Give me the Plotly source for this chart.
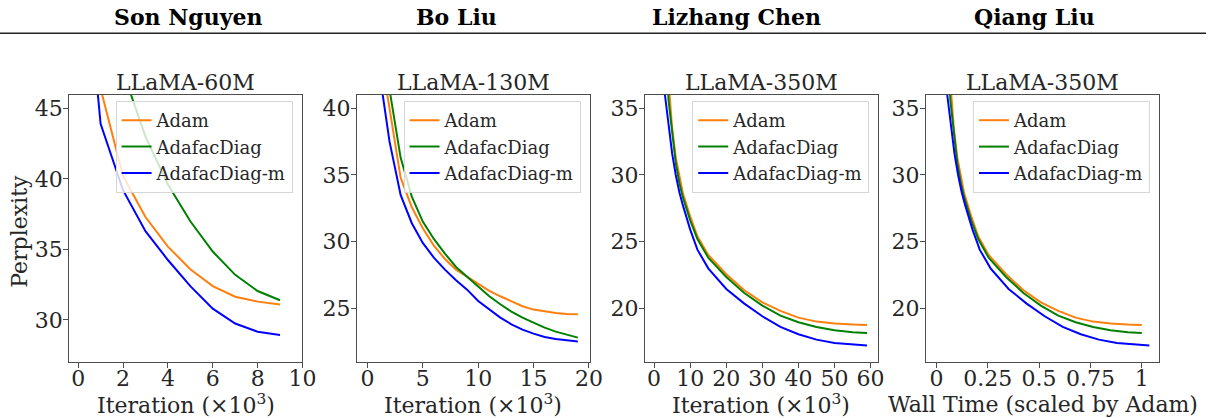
import plotly.graph_objects as go

# ---------------- data ----------------
headers = ["Son Nguyen", "Bo Liu", "Lizhang Chen", "Qiang Liu"]
titles = ["LLaMA-60M", "LLaMA-130M", "LLaMA-350M", "LLaMA-350M"]
series_names = ["Adam", "AdafacDiag", "AdafacDiag-m"]

# LLaMA-60M  (iteration, x10^3)
iter_60m = [0, 1, 2, 3, 4, 5, 6, 7, 8, 9]
adam_60m = [62.0, 46.4, 40.2, 37.3, 35.2, 33.6, 32.4, 31.65, 31.3, 31.1]
diag_60m = [63.0, 55.0, 47.6, 43.0, 39.6, 37.0, 34.85, 33.2, 32.05, 31.4]
diagm_60m = [61.0, 43.9, 39.2, 36.3, 34.25, 32.4, 30.8, 29.75, 29.17, 28.93]

# LLaMA-130M
iter_130m = [0, 1, 2, 3, 4, 5, 6, 7, 8, 9, 10, 11, 12, 13, 14, 15, 16, 17, 18, 19]
adam_130m = [72.0, 45.0, 40.0, 34.8, 32.6, 31.0, 29.7, 28.7, 27.9, 27.35, 26.8, 26.3,
             25.9, 25.5, 25.15, 24.9, 24.75, 24.65, 24.58, 24.55]
diag_130m = [75.0, 50.0, 41.4, 36.3, 33.4, 31.5, 30.2, 29.1, 28.1, 27.35, 26.6, 25.9,
             25.3, 24.75, 24.3, 23.9, 23.55, 23.25, 23.0, 22.8]
diagm_130m = [70.0, 43.2, 37.5, 33.5, 31.4, 29.9, 28.8, 27.9, 27.1, 26.4, 25.55, 24.9,
              24.3, 23.8, 23.4, 23.1, 22.85, 22.7, 22.6, 22.5]

# LLaMA-350M
iter_350m = [1, 2, 3, 4, 5, 6, 7, 8, 10, 12, 15, 20, 25, 30, 35, 40, 45, 50, 55, 59]
adam_350m = [70.0, 52.0, 43.0, 37.0, 33.5, 31.3, 29.8, 28.6, 26.9, 25.4, 24.0, 22.55,
             21.35, 20.45, 19.8, 19.3, 19.0, 18.85, 18.78, 18.75]
diag_350m = [70.0, 51.0, 41.5, 35.6, 33.1, 30.9, 29.4, 28.3, 26.6, 25.2, 23.8, 22.35,
             21.15, 20.2, 19.45, 18.95, 18.6, 18.35, 18.2, 18.15]
diagm_350m = [55.0, 41.0, 36.0, 33.6, 31.6, 30.0, 28.7, 27.7, 25.9, 24.4, 23.0, 21.45,
              20.35, 19.4, 18.6, 18.05, 17.65, 17.4, 17.28, 17.2]

# Wall time (scaled by Adam) for the LLaMA-350M runs
time_adam = [0.0169, 0.0339, 0.0508, 0.0678, 0.0847, 0.1017, 0.1186, 0.1356, 0.1695, 0.2034,
             0.2542, 0.3390, 0.4237, 0.5085, 0.5932, 0.6780, 0.7627, 0.8475, 0.9322, 1.0]
time_diag = [0.0169, 0.0339, 0.0508, 0.0678, 0.0847, 0.1017, 0.1186, 0.1356, 0.1695, 0.2034,
             0.2542, 0.3390, 0.4237, 0.5085, 0.5932, 0.6780, 0.7627, 0.8475, 0.9322, 1.0]
time_diagm = [0.0176, 0.0352, 0.0527, 0.0703, 0.0879, 0.1055, 0.1231, 0.1406, 0.1758, 0.2109,
              0.2636, 0.3515, 0.4394, 0.5273, 0.6152, 0.7031, 0.7910, 0.8789, 0.9667, 1.037]

x_tick_vals = [[0, 2, 4, 6, 8, 10], [0, 5, 10, 15, 20], [0, 10, 20, 30, 40, 50, 60],
               [0, 0.25, 0.5, 0.75, 1]]
x_tick_text = [["0", "2", "4", "6", "8", "10"], ["0", "5", "10", "15", "20"],
               ["0", "10", "20", "30", "40", "50", "60"], ["0", "0.25", "0.5", "0.75", "1"]]
y_tick_vals = [[30, 35, 40, 45], [25, 30, 35, 40], [20, 25, 30, 35], [20, 25, 30, 35]]
x_titles = ["Iteration (×10<sup>3</sup>)", "Iteration (×10<sup>3</sup>)",
            "Iteration (×10<sup>3</sup>)", "Wall Time (scaled by Adam)"]

# ---------------- layout geometry ----------------
W, H = 1220, 418
FONT = "DejaVu Serif"
TXT = "#262626"
colors = ["#ff7f0e", "green", "blue"]

def fx(p):
    return p / W

def fy(p):
    return 1 - p / H

x_dom_px = [(70, 306), (361, 596.7), (652.3, 888.3), (936.7, 1172.7)]
y_dom = [fy(362), fy(95)]
x_ranges = [[-0.4, 10.0], [-0.95, 20.08], [-2.58, 62.08], [-0.051, 1.085]]
y_ranges = [[27.02, 45.95], [20.97, 41.0], [15.97, 36.0], [15.97, 36.0]]
legend_right_px = [296, 587.3, 879.3, 1163.3]
header_cx = [190.5, 462.3, 744.7, 1046.5]

panels = [
    (iter_60m, iter_60m, iter_60m, adam_60m, diag_60m, diagm_60m),
    (iter_130m, iter_130m, iter_130m, adam_130m, diag_130m, diagm_130m),
    (iter_350m, iter_350m, iter_350m, adam_350m, diag_350m, diagm_350m),
    (time_adam, time_diag, time_diagm, adam_350m, diag_350m, diagm_350m),
]

fig = go.Figure()
layout = dict(
    width=W, height=H,
    margin=dict(l=0, r=0, t=0, b=0),
    paper_bgcolor="white", plot_bgcolor="white",
    font=dict(family=FONT, color=TXT, size=22),
)
annotations = []

for i, (xa, xd, xm, ya, yd, ym) in enumerate(panels):
    n = i + 1
    xs = "x" if n == 1 else f"x{n}"
    ys = "y" if n == 1 else f"y{n}"
    lg = "legend" if n == 1 else f"legend{n}"
    for xv, yv, name, c in zip([xa, xd, xm], [ya, yd, ym], series_names, colors):
        fig.add_trace(go.Scatter(
            x=xv, y=yv, mode="lines", name=name,
            line=dict(color=c, width=2),
            xaxis=xs, yaxis=ys, legend=lg, showlegend=True,
        ))
    axis_common = dict(
        showline=True, mirror=True, linecolor="#4d4d4d", linewidth=1,
        ticks="outside", ticklen=5, tickwidth=1, tickcolor="#4d4d4d",
        showgrid=False, zeroline=False,
        tickfont=dict(family=FONT, size=22, color=TXT),
    )
    xname = "xaxis" if n == 1 else f"xaxis{n}"
    yname = "yaxis" if n == 1 else f"yaxis{n}"
    layout[xname] = dict(
        axis_common, domain=[fx(x_dom_px[i][0]), fx(x_dom_px[i][1])],
        range=x_ranges[i], anchor=ys, tickmode="array",
        tickvals=x_tick_vals[i], ticktext=x_tick_text[i],
        ticklabelstandoff=-8,
    )
    layout[yname] = dict(
        axis_common, domain=y_dom, range=y_ranges[i], anchor=xs,
        tickmode="array", tickvals=y_tick_vals[i],
        ticktext=[str(v) for v in y_tick_vals[i]],
        ticklabelstandoff=-4,
    )
    layout[lg] = dict(
        x=fx(legend_right_px[i]), xanchor="right", xref="paper",
        y=fy(101), yanchor="top", yref="paper",
        bgcolor="rgba(255,255,255,0.8)", bordercolor="#d6d6d6", borderwidth=1,
        font=dict(family=FONT, size=18, color=TXT),
        traceorder="normal",
    )
    cx = (x_dom_px[i][0] + x_dom_px[i][1]) / 2
    # subplot title
    annotations.append(dict(
        text=titles[i], x=fx(cx), y=fy(82), xref="paper", yref="paper",
        xanchor="center", yanchor="middle", showarrow=False,
        font=dict(family=FONT, size=22, color=TXT),
    ))
    # x-axis title
    annotations.append(dict(
        text=x_titles[i], x=fx(cx), y=fy(404), xref="paper", yref="paper",
        xanchor="center", yanchor="middle", showarrow=False,
        font=dict(family=FONT, size=22, color=TXT),
    ))
    # header name
    annotations.append(dict(
        text="<b>" + headers[i] + "</b>", x=fx(header_cx[i]), y=fy(17),
        xref="paper", yref="paper", xanchor="center", yanchor="middle",
        showarrow=False, font=dict(family=FONT, size=22, color="black"),
    ))

annotations.append(dict(
    text="Perplexity", x=fx(19), y=fy(231), xref="paper", yref="paper",
    xanchor="center", yanchor="middle", textangle=-90, showarrow=False,
    font=dict(family=FONT, size=22, color=TXT),
))

layout["annotations"] = annotations
layout["shapes"] = [dict(
    type="line", xref="paper", yref="paper", x0=0, x1=1, y0=fy(33.3), y1=fy(33.3),
    line=dict(color="#222", width=1.5),
)]

fig.update_layout(**layout)
fig.write_html("out.html")
